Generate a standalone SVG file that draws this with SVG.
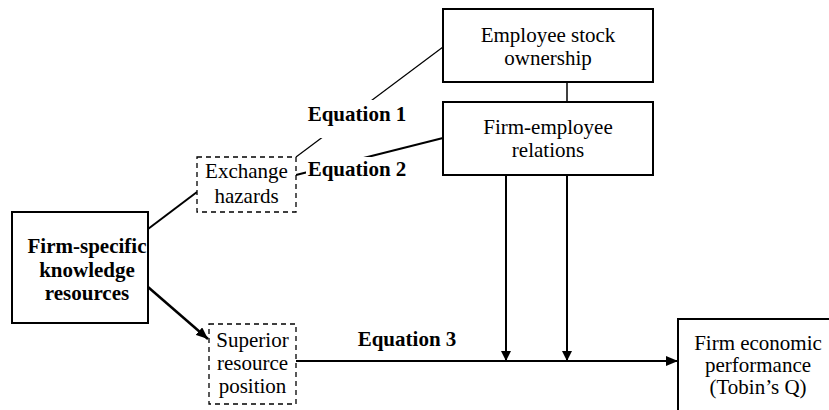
<svg xmlns="http://www.w3.org/2000/svg" width="829" height="410" viewBox="0 0 829 410">
<style>
text{font-size:21px;fill:#000;text-anchor:middle}
.b{font-weight:bold}
.box{fill:#fff;stroke:#000;stroke-width:2}
.dash{fill:#fff;stroke:#000;stroke-width:1.3;stroke-dasharray:5,4}
.ln{stroke:#000;fill:none}
</style>
<defs>
<marker id="ah" viewBox="0 0 10 10" refX="10" refY="5" markerWidth="10" markerHeight="10" markerUnits="userSpaceOnUse" orient="auto">
<path d="M0,0L10,5L0,10z" fill="#000"/>
</marker>
<marker id="ah2" viewBox="0 0 12 10" refX="12" refY="5" markerWidth="12" markerHeight="10" markerUnits="userSpaceOnUse" orient="auto">
<path d="M0,0L12,5L0,10z" fill="#000"/>
</marker>
</defs>
<g font-family="Liberation Serif, serif">
<g id="connectors">
<line class="ln" x1="148" y1="229" x2="197" y2="192" stroke-width="2"/>
<line class="ln" x1="148" y1="287" x2="208" y2="339" stroke-width="2.5" marker-end="url(#ah2)"/>
<line class="ln" x1="296" y1="157" x2="443" y2="47" stroke-width="1.2"/>
<line class="ln" x1="296" y1="175" x2="443" y2="138" stroke-width="2"/>
<line class="ln" x1="567" y1="82" x2="567" y2="102" stroke-width="1.5"/>
<line class="ln" x1="506" y1="175" x2="506" y2="361" stroke-width="2" marker-end="url(#ah)"/>
<line class="ln" x1="567" y1="175" x2="567" y2="361" stroke-width="2" marker-end="url(#ah)"/>
<line class="ln" x1="296" y1="361" x2="678" y2="361" stroke-width="2" marker-end="url(#ah2)"/>
<rect x="306" y="100" width="104" height="38" fill="#fff"/>
<rect x="306" y="157" width="104" height="26" fill="#fff"/>
<text class="b" x="357" y="121">Equation 1</text>
<text class="b" x="357" y="176">Equation 2</text>
<text class="b" x="407" y="346">Equation 3</text>
</g>
<g id="firm-specific">
<rect class="box" x="12" y="212" width="136" height="111"/>
<text class="b" x="87" y="253">Firm-specific</text>
<text class="b" x="87" y="277">knowledge</text>
<text class="b" x="87" y="300">resources</text>
</g>
<g id="exchange-hazards">
<rect class="dash" x="197" y="157" width="99" height="55"/>
<text x="246.5" y="178">Exchange</text>
<text x="246.5" y="203">hazards</text>
</g>
<g id="superior-resource">
<rect class="dash" x="209" y="324" width="87" height="80"/>
<text x="252.5" y="347">Superior</text>
<text x="252.5" y="370">resource</text>
<text x="252.5" y="393">position</text>
</g>
<g id="employee-stock">
<rect class="box" x="443" y="9" width="210" height="73"/>
<text x="548" y="42">Employee stock</text>
<text x="548" y="65">ownership</text>
</g>
<g id="firm-employee">
<rect class="box" x="443" y="102" width="210" height="73"/>
<text x="548" y="134">Firm-employee</text>
<text x="548" y="157">relations</text>
</g>
<g id="firm-performance">
<rect class="box" x="678" y="319" width="162" height="110"/>
<text x="758" y="350">Firm economic</text>
<text x="758" y="372">performance</text>
<text x="758" y="394">(Tobin’s Q)</text>
</g>
</g>
</svg>
